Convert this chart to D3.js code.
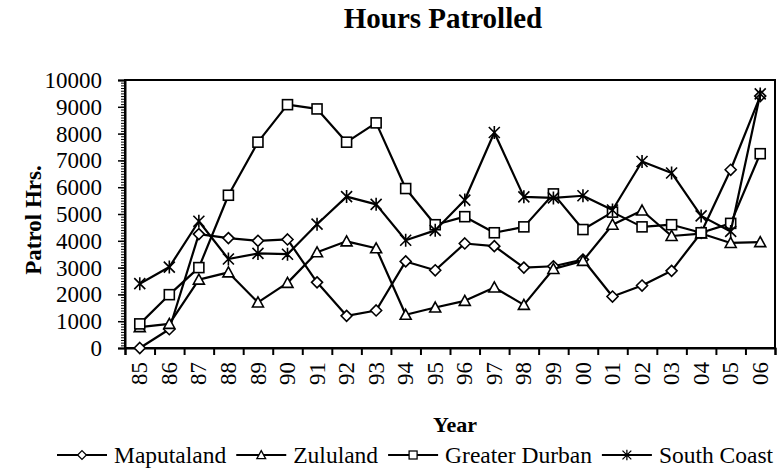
<!DOCTYPE html>
<html>
<head>
<meta charset="utf-8">
<script src="https://cdn.jsdelivr.net/npm/d3@7"></script>
<style>
    body { margin: 0; background: #fff; }
</style>
</head>
<body>
<div id="chart"></div>
<script>
var years = ["85", "86", "87", "88", "89", "90", "91", "92", "93", "94", "95", "96", "97", "98", "99", "00", "01", "02", "03", "04", "05", "06"];
var maputaland = [0, 700, 4250, 4100, 4000, 4050, 2450, 1200, 1400, 3230, 2900, 3900, 3800, 3000, 3050, 3300, 1920, 2330, 2880, 4300, 6650, 9400];
var zululand = [780, 900, 2550, 2820, 1700, 2430, 3570, 3980, 3720, 1240, 1510, 1760, 2260, 1610, 2950, 3250, 4600, 5130, 4180, 4270, 3920, 3950];
var greaterDurban = [900, 1990, 3000, 5700, 7680, 9080, 8920, 7680, 8400, 5950, 4600, 4900, 4300, 4520, 5750, 4420, 5070, 4520, 4600, 4300, 4650, 7250];
var southCoast = [2400, 3020, 4730, 3320, 3530, 3500, 4620, 5650, 5360, 4020, 4390, 5520, 8040, 5640, 5600, 5680, 5150, 6960, 6530, 4930, 4350, 9480];
var seriesNames = ["Maputaland", "Zululand", "Greater Durban", "South Coast"];
var seriesMarkers = ["diamond", "triangle", "square", "star"];
var yTicks = [0, 1000, 2000, 3000, 4000, 5000, 6000, 7000, 8000, 9000, 10000];

var series = [maputaland, zululand, greaterDurban, southCoast].map(function (v, i) {
    return { name: seriesNames[i], marker: seriesMarkers[i], values: v };
});

var W = 784, H = 474,
    pLeft = 125, pRight = 775, pTop = 80, pBottom = 348,
    serif = "'Liberation Serif', 'Times New Roman', serif";

var svg = d3.select("#chart").append("svg").attr("width", W).attr("height", H)
    .attr("font-family", serif);

var x = d3.scaleBand().domain(years).range([pLeft, pRight]),
    xb = d3.scaleLinear().domain([0, years.length]).range([pLeft, pRight]),
    y = d3.scaleLinear().domain([0, 10000]).range([pBottom, pTop]);

function cx(i) { return x(years[i]) + x.bandwidth() / 2; }

// marker shapes, drawn around 0,0
function marker(g, type) {
    if (type === "diamond") {
        g.append("path").attr("d", "M0,-5.5L5.5,0L0,5.5L-5.5,0Z");
    } else if (type === "triangle") {
        g.append("path").attr("d", "M0,-5.5L5.5,4.5L-5.5,4.5Z");
    } else if (type === "square") {
        g.append("rect").attr("x", -5).attr("y", -5).attr("width", 10).attr("height", 10);
    } else {
        g.append("path").attr("d", "M-5.5,-5.5L5.5,5.5M-5.5,5.5L5.5,-5.5M0,-6.5L0,6.5");
    }
    g.attr("fill", "#fff").attr("stroke", "#000").attr("stroke-width", 1.6);
}

svg.append("text").attr("x", 443).attr("y", 28).attr("text-anchor", "middle")
    .style("font-size", "29px").style("font-weight", "bold").text("Hours Patrolled");

// plot frame
svg.append("rect").attr("x", pLeft).attr("y", pTop).attr("width", pRight - pLeft).attr("height", pBottom - pTop)
    .attr("fill", "none").attr("stroke", "#000").attr("stroke-width", 2);

// y axis: minor comb + labelled major ticks
svg.append("g").attr("transform", "translate(" + pLeft + ",0)")
    .call(d3.axisLeft(y).tickValues(d3.range(0, 10001, 100)).tickSize(4).tickFormat(""))
    .call(function (g) { g.select(".domain").remove(); g.selectAll("line").attr("stroke-width", 1); });
var ya = svg.append("g").attr("transform", "translate(" + pLeft + ",0)")
    .call(d3.axisLeft(y).tickValues(yTicks).tickSize(7).tickPadding(16).tickFormat(d3.format("d")));
ya.attr("font-family", serif).attr("font-size", 23);
ya.select(".domain").attr("stroke-width", 2);
ya.selectAll("line").attr("stroke-width", 1.5);
ya.selectAll("text").attr("dy", "0.33em");

// x axis: ticks between categories, labels turned
var xa = svg.append("g").attr("transform", "translate(0," + pBottom + ")")
    .call(d3.axisBottom(xb).tickValues(d3.range(0, years.length + 1)).tickSize(7).tickFormat(""));
xa.select(".domain").attr("stroke-width", 2);
xa.selectAll("line").attr("stroke-width", 2);

svg.append("g").selectAll("text").data(years).enter().append("text")
    .attr("transform", function (d, i) { return "translate(" + cx(i) + ",362) rotate(-90)"; })
    .attr("text-anchor", "end").attr("dy", "0.33em").style("font-size", "23px")
    .text(function (d) { return d; });

svg.append("text").attr("x", 455).attr("y", 432).attr("text-anchor", "middle")
    .style("font-size", "22px").style("font-weight", "bold").text("Year");
svg.append("text").attr("transform", "translate(41,220) rotate(-90)").attr("text-anchor", "middle")
    .style("font-size", "23px").style("font-weight", "bold").text("Patrol Hrs.");

var line = d3.line()
    .x(function (d, i) { return cx(i); })
    .y(function (d) { return y(d); });

series.forEach(function (s) {
    var g = svg.append("g");
    g.append("path").attr("d", line(s.values)).attr("fill", "none")
        .attr("stroke", "#000").attr("stroke-width", 2.2).attr("stroke-linejoin", "round");
    s.values.forEach(function (v, i) {
        var m = g.append("g").attr("transform", "translate(" + cx(i) + "," + y(v) + ")");
        marker(m, s.marker);
    });
});

// legend, items flow left to right
var lx = 57;
series.forEach(function (s) {
    var g = svg.append("g");
    g.append("line").attr("x1", lx).attr("x2", lx + 50).attr("y1", 455).attr("y2", 455)
        .attr("stroke", "#000").attr("stroke-width", 2.2);
    var m = g.append("g");
    marker(m, s.marker);
    m.attr("transform", "translate(" + (lx + 25) + ",455) scale(0.8)");
    var t = g.append("text").attr("x", lx + 57).attr("y", 463).style("font-size", "23.5px").text(s.name);
    lx = lx + 57 + t.node().getComputedTextLength() + 10;
});
</script>
</body>
</html>
